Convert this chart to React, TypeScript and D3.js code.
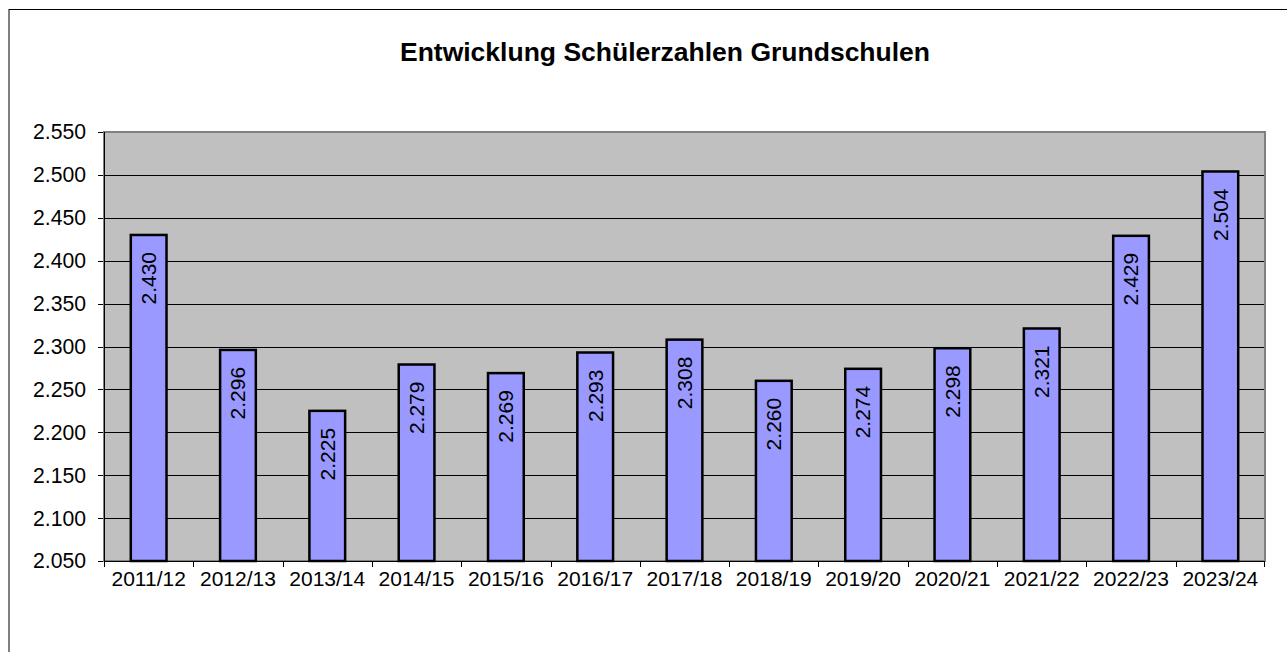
import React from "react";
import * as d3 from "d3";

const categories = ["2011/12","2012/13","2013/14","2014/15","2015/16","2016/17","2017/18","2018/19","2019/20","2020/21","2021/22","2022/23","2023/24"];
const values = [2430, 2296, 2225, 2279, 2269, 2293, 2308, 2260, 2274, 2298, 2321, 2429, 2504];
const yTicks = [2050, 2100, 2150, 2200, 2250, 2300, 2350, 2400, 2450, 2500, 2550];
const title = "Entwicklung Schülerzahlen Grundschulen";

const fmt = (v: number) => d3.format(",")(v).replace(/,/g, ".");

export default function App() {
  const W = 1287, H = 652;
  const left = 104, right = 1265, top = 132, bottom = 561;
  const x = d3.scaleBand<string>().domain(categories).range([left, right]).paddingInner(0.6).paddingOuter(0.3);
  const y = d3.scaleLinear().domain([2050, 2550]).range([bottom, top]);
  const font = "'Liberation Sans', Arial, sans-serif";
  const step = x.step();
  return (
    <svg width={W} height={H} style={{ position: "absolute", left: 0, top: 0, background: "#fff" }} fontFamily={font}>
      <rect x={9} y={9.5} width={W + 20} height={H + 20} fill="#fff" stroke="#000" strokeWidth={1} />
      <text x={665} y={61} textAnchor="middle" fontSize={26.5} fontWeight="bold" fill="#000">{title}</text>
      <rect x={left} y={top} width={right - left} height={bottom - top} fill="#C0C0C0" />
      {yTicks.map((t) => (
        <g key={t}>
          {t !== 2050 && t !== 2550 && (
            <line x1={left} x2={right} y1={Math.round(y(t)) + 0.5} y2={Math.round(y(t)) + 0.5} stroke="#000" strokeWidth={1} />
          )}
          <line x1={left - 6} x2={left} y1={Math.round(y(t)) + 0.5} y2={Math.round(y(t)) + 0.5} stroke="#000" strokeWidth={1} />
          <text x={86} y={y(t)} dy="0.35em" textAnchor="end" fontSize={21.2} fill="#000">{fmt(t)}</text>
        </g>
      ))}
      <rect x={left} y={top} width={right - left} height={bottom - top} fill="none" stroke="#808080" strokeWidth={2} />
      <line x1={left + 0.5} x2={left + 0.5} y1={top} y2={bottom} stroke="#000" strokeWidth={1} />
      <line x1={left} x2={right} y1={bottom + 0.5} y2={bottom + 0.5} stroke="#000" strokeWidth={1} />
      {categories.map((c, i) => {
        const x0 = (x(c) as number) - (step - x.bandwidth()) / 2;
        return (
          <g key={c}>
            <line x1={Math.round(x0) + 0.5} x2={Math.round(x0) + 0.5} y1={bottom} y2={bottom + 6} stroke="#000" strokeWidth={1} />
            {i === categories.length - 1 && (
              <line x1={right - 0.5} x2={right - 0.5} y1={bottom} y2={bottom + 6} stroke="#000" strokeWidth={1} />
            )}
            <text x={(x(c) as number) + x.bandwidth() / 2} y={586} textAnchor="middle" fontSize={21} fill="#000">{c}</text>
          </g>
        );
      })}
      {categories.map((c, i) => {
        const bx = x(c) as number;
        const bw = x.bandwidth();
        const by = y(values[i]);
        const cx = bx + bw / 2;
        return (
          <g key={"b" + c}>
            <rect x={bx} y={by} width={bw} height={bottom - by} fill="#9999FF" stroke="#000" strokeWidth={2.5} />
            <text transform={`translate(${cx},${by + 17}) rotate(-90)`} textAnchor="end" dy="0.35em" fontSize={21} fill="#000">{fmt(values[i])}</text>
          </g>
        );
      })}
    </svg>
  );
}
